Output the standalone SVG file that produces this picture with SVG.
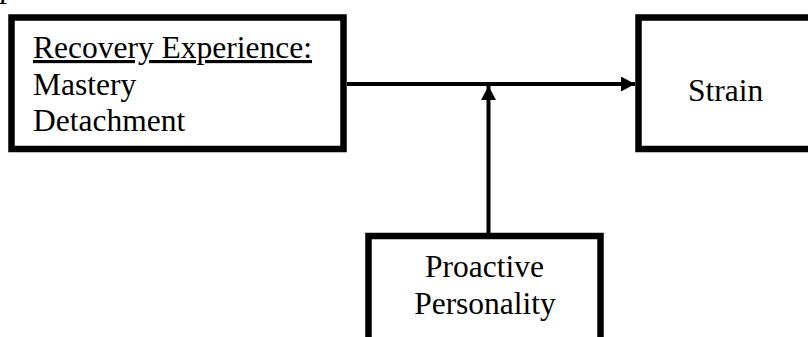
<svg xmlns="http://www.w3.org/2000/svg" width="808" height="337" viewBox="0 0 808 337">
<style>
.box{fill:#fff;stroke:#000;stroke-width:6.5}
.t{font-family:"Liberation Serif","Times New Roman",serif;font-size:31.5px;fill:#000}
.c{stroke:#000;stroke-width:4;fill:none}
</style>
<defs>
<marker id="ah" viewBox="0 0 14 15" refX="14" refY="7.5" markerWidth="14" markerHeight="15" markerUnits="userSpaceOnUse" orient="auto">
<path d="M0,0 L14,7.5 L0,15 Z" fill="#000"/>
</marker>
</defs>
<rect width="808" height="337" fill="#fff"/>
<text class="t" x="1" y="-3" font-style="italic">p</text>
<g id="recovery">
<rect class="box" x="11.5" y="17.5" width="332" height="131.5"/>
<text class="t" x="33" y="58" text-decoration="underline">Recovery Experience:</text>
<text class="t" x="33" y="95">Mastery</text>
<text class="t" x="33" y="131">Detachment</text>
</g>
<g id="strain">
<rect class="box" x="638.5" y="17.5" width="200" height="131.5"/>
<text class="t" x="688" y="101">Strain</text>
</g>
<g id="proactive">
<rect class="box" x="368.5" y="236" width="232" height="130"/>
<text class="t" x="484.5" y="277" text-anchor="middle">Proactive</text>
<text class="t" x="485" y="314" text-anchor="middle">Personality</text>
</g>
<g id="connectors">
<line class="c" x1="347" y1="84" x2="635" y2="84" marker-end="url(#ah)"/>
<line class="c" x1="488.5" y1="233" x2="488.5" y2="86" marker-end="url(#ah)"/>
</g>
</svg>
